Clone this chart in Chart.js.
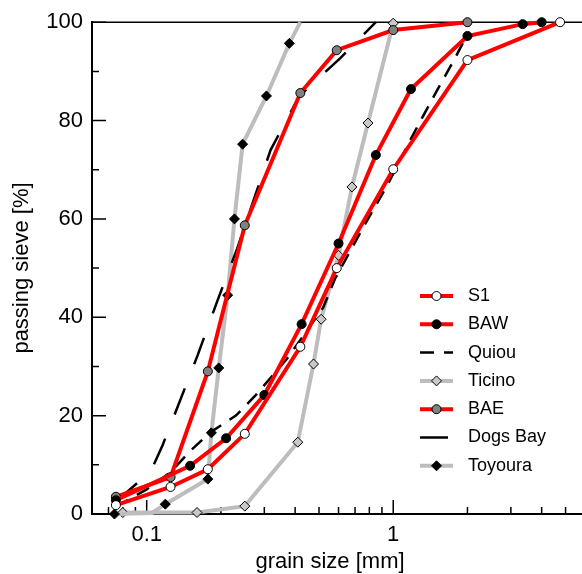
<!DOCTYPE html>
<html lang="en">
<head>
<meta charset="UTF-8" />
<title>Grain size distribution</title>
<script src="https://cdn.jsdelivr.net/npm/chart.js@4"></script>
<style>
    * { padding: 0; margin: 0; box-sizing: border-box; }
    body { width: 582px; height: 574px; overflow: hidden; background: #fff; }
    .chart-container { position: relative; width: 582px; height: 574px; }
</style>
</head>
<body>
<div class="chart-container"><canvas id="gradingChart"></canvas></div>
<script>
// grain size [mm] / passing [%]
const s1Size = [0.075, 0.125, 0.177, 0.25, 0.42, 0.59, 1.0, 2.0, 4.75];
const s1Pass = [1.8, 5.5, 9.1, 16.3, 34, 50, 70.1, 92.3, 100];

const bawSize = [0.075, 0.15, 0.21, 0.3, 0.425, 0.6, 0.85, 1.18, 2.0, 3.35, 4.0];
const bawPass = [2.8, 9.8, 15.4, 24.2, 38.6, 55, 73, 86.4, 97.2, 99.6, 100];

const quiouSize = [0.075, 0.1, 0.125, 0.15, 0.18, 0.23, 0.275, 0.37, 0.52, 0.58, 0.75, 0.95, 1.2, 1.5, 1.75, 2.0];
const quiouPass = [1.5, 5, 8.5, 12.8, 16.5, 20, 24, 31.5, 42, 47.8, 58, 67, 77, 86, 92, 97.5];

const ticinoSize = [0.08, 0.16, 0.25, 0.41, 0.475, 0.51, 0.6, 0.68, 0.79, 1.0];
const ticinoPass = [0.3, 0.3, 1.6, 14.6, 30.5, 39.6, 52.6, 66.5, 79.5, 99.8];

const baeSize = [0.075, 0.125, 0.177, 0.25, 0.42, 0.59, 1.0, 2.0];
const baePass = [3.5, 7.5, 29, 58.7, 85.6, 94.3, 98.4, 100];

const dogsBaySize = [0.075, 0.104, 0.116, 0.134, 0.161, 0.194, 0.233, 0.318, 0.416, 0.61, 0.85];
const dogsBayPass = [2.5, 8.7, 14, 22, 32.3, 43.5, 54, 74, 85, 92.7, 100];

const toyouraSize = [0.074, 0.105, 0.119, 0.177, 0.183, 0.196, 0.213, 0.227, 0.245, 0.306, 0.379, 0.42];
const toyouraPass = [0, 0.2, 2, 7.1, 16.5, 29.7, 44.5, 60, 75.2, 85, 95.7, 100];
const toyouraMarked = [1, 0, 1, 1, 1, 1, 1, 1, 1, 1, 1, 0];

// axis ticks
const xMin = 0.06, xMax = 5.83;
const xMajorTicks = [0.1, 1];
const xMinorTicks = [0.07, 0.08, 0.09, 0.2, 0.3, 0.4, 0.5, 0.6, 0.7, 0.8, 0.9, 2, 3, 4, 5];
const xTickLabels = { 0.1: "0.1", 1: "1" };
const yMajorTicks = [0, 20, 40, 60, 80, 100];
const yMinorTicks = [10, 30, 50, 70, 90];

const FONT = "'Liberation Sans', Arial, sans-serif";

const pts = (xs, ys) => xs.map((v, i) => ({ x: v, y: ys[i] }));

const RED = "#ff0000";
const GREY = "#bdbdbd";

const datasets = [
    {
        label: "S1", data: pts(s1Size, s1Pass), order: 1,
        borderColor: RED, borderWidth: 4, pointStyle: "circle", pointRadius: 4.5,
        pointBackgroundColor: "#ffffff", pointBorderColor: "#000", pointBorderWidth: 1,
    },
    {
        label: "BAW", data: pts(bawSize, bawPass), order: 2,
        borderColor: RED, borderWidth: 4, pointStyle: "circle", pointRadius: 4.5,
        pointBackgroundColor: "#000000", pointBorderColor: "#000", pointBorderWidth: 1,
    },
    {
        label: "Quiou", data: pts(quiouSize, quiouPass), order: 4,
        borderColor: "#000", borderWidth: 2.5, borderDash: [14, 10], pointRadius: 0,
    },
    {
        label: "Ticino", data: pts(ticinoSize, ticinoPass), order: 7,
        borderColor: GREY, borderWidth: 4, pointStyle: "rectRot", pointRadius: 5,
        pointBackgroundColor: "#c8c8c8", pointBorderColor: "#000", pointBorderWidth: 1,
    },
    {
        label: "BAE", data: pts(baeSize, baePass), order: 3,
        borderColor: RED, borderWidth: 4, pointStyle: "circle", pointRadius: 4.5,
        pointBackgroundColor: "#808080", pointBorderColor: "#000", pointBorderWidth: 1,
    },
    {
        label: "Dogs Bay", data: pts(dogsBaySize, dogsBayPass), order: 5,
        borderColor: "#000", borderWidth: 2.5, borderDash: [28, 26], pointRadius: 0,
    },
    {
        label: "Toyoura", data: pts(toyouraSize, toyouraPass), order: 6,
        borderColor: GREY, borderWidth: 4, pointStyle: "rectRot",
        pointRadius: toyouraMarked.map((m) => (m ? 5 : 0)),
        pointBackgroundColor: "#000000", pointBorderColor: "#000", pointBorderWidth: 1,
    },
];
datasets.forEach((d) => { d.clip = false; d.tension = 0; d.fill = false; });

const framePlugin = {
    id: "frameAndLegend",
    beforeDatasetsDraw(chart) {
        const { ctx, chartArea: a, scales } = chart;
        const x = scales.x, y = scales.y;
        ctx.save();
        ctx.strokeStyle = "#000";
        ctx.lineWidth = 1.5;
        ctx.beginPath();
        ctx.moveTo(a.left, a.top);
        ctx.lineTo(chart.width, a.top);
        ctx.stroke();
        ctx.beginPath();
        yMajorTicks.forEach((v) => { const p = y.getPixelForValue(v); ctx.moveTo(a.left, p); ctx.lineTo(a.left + 14, p); });
        yMinorTicks.forEach((v) => { const p = y.getPixelForValue(v); ctx.moveTo(a.left, p); ctx.lineTo(a.left + 7, p); });
        xMajorTicks.forEach((v) => { const p = x.getPixelForValue(v); ctx.moveTo(p, a.bottom); ctx.lineTo(p, a.bottom - 14); });
        xMinorTicks.forEach((v) => { const p = x.getPixelForValue(v); ctx.moveTo(p, a.bottom); ctx.lineTo(p, a.bottom - 7); });
        ctx.stroke();
        ctx.restore();
    },
    afterDraw(chart) {
        const { ctx } = chart;
        ctx.save();
        // axis titles
        ctx.fillStyle = "#000";
        ctx.font = "22px " + FONT;
        ctx.textAlign = "center";
        ctx.textBaseline = "middle";
        ctx.fillText("grain size [mm]", 330, 562);
        ctx.translate(22, 268);
        ctx.rotate(-Math.PI / 2);
        ctx.fillText("passing sieve [%]", 0, 0);
        ctx.restore();

        // legend: line + marker + label
        ctx.save();
        const x0 = 420, x1 = 453, tx = 468, top = 296, step = 28.3;
        chart.data.datasets.forEach((d, i) => {
            const yy = top + i * step;
            ctx.strokeStyle = d.borderColor;
            ctx.lineWidth = d.borderWidth;
            ctx.setLineDash(d.borderDash || []);
            ctx.beginPath();
            ctx.moveTo(x0, yy);
            ctx.lineTo(d.label === "Dogs Bay" ? 448 : x1, yy);
            ctx.stroke();
            ctx.setLineDash([]);
            const r = Array.isArray(d.pointRadius) ? 5 : d.pointRadius;
            if (r > 0) {
                ctx.fillStyle = d.pointBackgroundColor;
                ctx.strokeStyle = d.pointBorderColor;
                ctx.lineWidth = d.pointBorderWidth;
                Chart.helpers.drawPoint(ctx, { pointStyle: d.pointStyle, radius: r, rotation: 0, borderWidth: 1 }, (x0 + x1) / 2, yy);
            }
            ctx.fillStyle = "#000";
            ctx.font = "18px " + FONT;
            ctx.textAlign = "left";
            ctx.textBaseline = "middle";
            ctx.fillText(d.label, tx, yy);
        });
        ctx.restore();
    },
};

new Chart(document.getElementById("gradingChart"), {
    type: "line",
    data: { datasets },
    plugins: [framePlugin],
    options: {
        responsive: true,
        maintainAspectRatio: false,
        animation: false,
        layout: { autoPadding: false, padding: { top: 22, right: 0, left: 0, bottom: 0 } },
        plugins: { legend: { display: false }, tooltip: { enabled: false } },
        scales: {
            x: {
                type: "logarithmic",
                min: xMin,
                max: xMax,
                afterBuildTicks: (scale) => {
                    scale.ticks = [xMin, ...xMajorTicks, xMax].map((v) => ({ value: v }));
                },
                afterFit: (scale) => {
                    scale.height = 60;
                    scale.paddingLeft = 0;
                    scale.paddingRight = 0;
                },
                grid: { display: false, drawTicks: false },
                border: { display: true, color: "#000", width: 2 },
                ticks: {
                    autoSkip: false,
                    maxRotation: 0,
                    padding: 8,
                    color: "#000",
                    font: { family: FONT, size: 22 },
                    callback: (value) => xTickLabels[value] || "",
                },
            },
            y: {
                type: "linear",
                min: 0,
                max: 100,
                afterBuildTicks: (scale) => {
                    scale.ticks = yMajorTicks.map((v) => ({ value: v }));
                },
                afterFit: (scale) => { scale.width = 92; },
                grid: { display: false, drawTicks: false },
                border: { display: true, color: "#000", width: 2 },
                ticks: {
                    padding: 9,
                    color: "#000",
                    font: { family: FONT, size: 22 },
                },
            },
        },
    },
});
</script>
</body>
</html>
